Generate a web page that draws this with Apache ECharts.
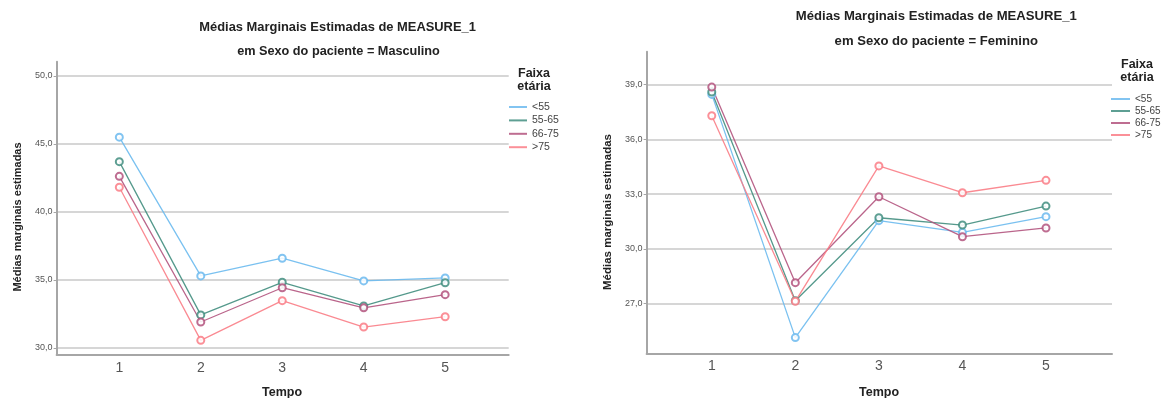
<!DOCTYPE html>
<html>
<head>
<meta charset="utf-8">
<script src="https://cdn.jsdelivr.net/npm/echarts@6/dist/echarts.min.js"></script>
<style>
html,body{margin:0;padding:0;background:#fff;}
#chart{width:1163px;height:398px;}
</style>
</head>
<body>
<div id="chart"></div>
<script>
// ---- data ----
const times = [1, 2, 3, 4, 5];
const groups = ['<55', '55-65', '66-75', '>75'];
const groupColors = ['#6cbaee', '#428e80', '#b3547e', '#fa7d86'];

// Sexo do paciente = Masculino
const masc_lt55   = [45.50, 35.30, 36.60, 34.93, 35.15];
const masc_55_65  = [43.70, 32.43, 34.83, 33.09, 34.80];
const masc_66_75  = [42.62, 31.91, 34.43, 32.95, 33.92];
const masc_gt75   = [41.82, 30.56, 33.48, 31.54, 32.30];

// Sexo do paciente = Feminino
const fem_lt55   = [38.47, 25.14, 31.55, 30.91, 31.77];
const fem_55_65  = [38.60, 27.16, 31.71, 31.31, 32.35];
const fem_66_75  = [38.87, 28.15, 32.86, 30.67, 31.15];
const fem_gt75   = [37.30, 27.13, 34.55, 33.08, 33.76];

const mascTicks = [30, 35, 40, 45, 50];
const femTicks = [27, 30, 33, 36, 39];

const titleMain = 'Médias Marginais Estimadas de MEASURE_1';
const titleMasc = 'em Sexo do paciente = Masculino';
const titleFem = 'em Sexo do paciente = Feminino';
const yTitle = 'Médias marginais estimadas';
const xTitle = 'Tempo';
const legendTitle = 'Faixa\netária';

// ---- build ----
const FONT = '"Liberation Sans", Arial, sans-serif';
const mascSets = [masc_lt55, masc_55_65, masc_66_75, masc_gt75];
const femSets = [fem_lt55, fem_55_65, fem_66_75, fem_gt75];

function mkSeries(sets, idx) {
  return sets.map((vals, i) => ({
    name: groups[i],
    type: 'line',
    xAxisIndex: idx,
    yAxisIndex: idx,
    data: vals.map((v, k) => [times[k], v]),
    symbol: 'emptyCircle',
    symbolSize: 7,
    color: groupColors[i],
    lineStyle: { width: 1.3, color: groupColors[i], opacity: 0.9 },
    itemStyle: { color: groupColors[i], borderWidth: 1.2, opacity: 0.85 },
    emphasis: { disabled: true },
    silent: true,
    animation: false,
    z: 3
  }));
}

const fmt = v => v.toFixed(1).replace('.', ',');

function mkX(idx, min, max, margin) {
  return {
    type: 'value', gridIndex: idx, min: min, max: max,
    axisLine: { show: true, onZero: false, lineStyle: { color: '#a6a6a6', width: 2 } },
    axisTick: { show: false, customValues: times },
    axisLabel: { customValues: times, fontSize: 14, color: '#555', fontFamily: FONT, margin: margin },
    splitLine: { show: false }
  };
}
function mkY(idx, min, max, ticks) {
  return {
    type: 'value', gridIndex: idx, min: min, max: max,
    axisLine: { show: true, lineStyle: { color: '#a6a6a6', width: 2 } },
    axisTick: { show: true, customValues: ticks, length: 3, lineStyle: { color: '#a6a6a6' } },
    axisLabel: { customValues: ticks, formatter: fmt, fontSize: 9, color: '#555', fontFamily: FONT, margin: 4 },
    splitLine: { show: true, lineStyle: { color: '#d6d6d6', width: 2 } }
  };
}

function txt(x, y, text, size, opts) {
  opts = opts || {};
  return {
    type: 'text', x: x, y: y, rotation: opts.rot || 0, silent: true, z: 10,
    style: {
      text: text, fill: opts.color || '#222', align: opts.align || 'center', verticalAlign: 'middle',
      font: (opts.bold === false ? '' : 'bold ') + size + 'px ' + FONT,
      lineHeight: opts.lh || undefined
    }
  };
}

const option = {
  backgroundColor: '#ffffff',
  animation: false,
  grid: [
    { left: 56.6, right: 654.3, top: 61.7, bottom: 43.5 },
    { left: 646.6, right: 51, top: 51.7, bottom: 44.7 }
  ],
  xAxis: [mkX(0, 0.23, 5.78, 7), mkX(1, 0.22, 5.79, 6)],
  yAxis: [mkY(0, 29.52, 51.05, mascTicks), mkY(1, 24.28, 40.81, femTicks)],
  legend: [
    {
      data: groups, orient: 'vertical', left: 509, top: 101, padding: 0,
      icon: 'rect', itemWidth: 18, itemHeight: 2, itemGap: 1.4,
      textStyle: { fontSize: 10.5, color: '#444', fontFamily: FONT, lineHeight: 12 },
      selectedMode: false
    },
    {
      data: groups, orient: 'vertical', left: 1111, top: 93, padding: 0,
      icon: 'rect', itemWidth: 19, itemHeight: 2, itemGap: 0,
      textStyle: { fontSize: 10, color: '#444', fontFamily: FONT, lineHeight: 12 },
      selectedMode: false
    }
  ],
  series: mkSeries(mascSets, 0).concat(mkSeries(femSets, 1)),
  graphic: [
    txt(337.6, 27.3, titleMain, 12.9),
    txt(338.5, 51.7, titleMasc, 12.7),
    txt(936.3, 16, titleMain, 13.1),
    txt(936.3, 41.7, titleFem, 13.1),
    txt(18, 217, yTitle, 11, { rot: Math.PI / 2 }),
    txt(608, 212, yTitle, 11.5, { rot: Math.PI / 2 }),
    txt(282, 393, xTitle, 12.5),
    txt(879, 393, xTitle, 12.5),
    txt(534, 80, legendTitle, 12.5, { lh: 13.5 }),
    txt(1137, 71, legendTitle, 12.5, { lh: 13.5 })
  ]
};

const chart = echarts.init(document.getElementById('chart'), null, { renderer: 'canvas' });
chart.setOption(option);
</script>
</body>
</html>
